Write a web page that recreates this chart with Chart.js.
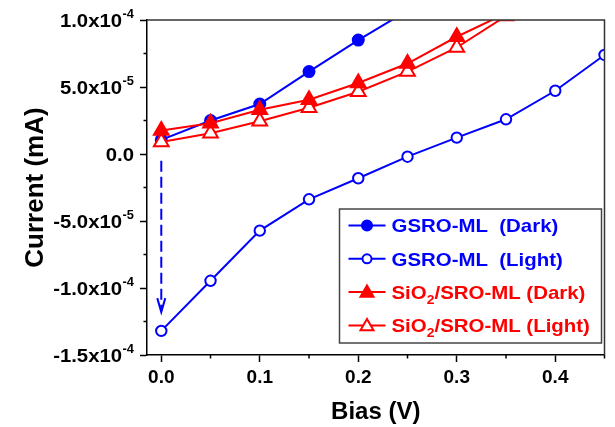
<!DOCTYPE html>
<html><head><meta charset="utf-8">
<script src="https://cdn.jsdelivr.net/npm/chart.js@4/dist/chart.umd.min.js"></script>
<style>html,body{margin:0;padding:0;background:#fff;}#wrap{width:615px;height:427px;}</style>
</head><body><div id="wrap"><canvas id="c" width="615" height="427"></canvas></div>
<script>
// ---- data ----
const biasV = [0, 0.05, 0.1, 0.15, 0.2, 0.25, 0.3, 0.35, 0.4, 0.45];
const gsroDark  = [1.05e-5, 2.5e-5, 3.73e-5, 6.15e-5, 8.5e-5, 1.07e-4];
const gsroLight = [-1.32e-4, -9.46e-5, -5.72e-5, -3.38e-5, -1.81e-5, -0.2e-5, 1.22e-5, 2.59e-5, 4.72e-5, 7.39e-5];
const sioDark   = [1.75e-5, 2.3e-5, 3.3e-5, 4.05e-5, 5.3e-5, 6.75e-5, 8.75e-5, 1.05e-4];
const sioLight  = [0.9e-5, 1.55e-5, 2.45e-5, 3.45e-5, 4.65e-5, 6.15e-5, 7.95e-5, 1.03e-4];
const seriesNames = ['GSRO-ML  (Dark)', 'GSRO-ML  (Light)', 'SiO₂/SRO-ML (Dark)', 'SiO₂/SRO-ML (Light)'];
const yTickValues   = [-1.5e-4, -1.0e-4, -5.0e-5, 0, 5.0e-5, 1.0e-4];
const yTickMantissa = ['-1.5x10', '-1.0x10', '-5.0x10', '0.0', '5.0x10', '1.0x10'];
const yTickExponent = ['-4', '-4', '-5', '', '-5', '-4'];
const yMinorTicks   = [-1.25e-4, -7.5e-5, -2.5e-5, 2.5e-5, 7.5e-5];
const xTickValues   = [0, 0.1, 0.2, 0.3, 0.4];
const xTickLabels   = ['0.0', '0.1', '0.2', '0.3', '0.4'];
const xMinorTicks   = [0.05, 0.15, 0.25, 0.35, 0.45];
const arrowX = [0, 0];
const arrowY = [-0.5e-5, -1.18e-4];

const FONT = "'Liberation Sans', Arial, Helvetica, sans-serif";
const BLUE = '#0000ff', RED = '#ff0000';
const pts = ys => ys.map((y, i) => ({x: biasV[i], y}));

const styles = [
  {color: BLUE, pointStyle: 'circle', fill: BLUE, r: 5.5, lr: 5},
  {color: BLUE, pointStyle: 'circle', fill: '#fff', r: 5.2, lr: 4.5},
  {color: RED, pointStyle: 'triangle', fill: RED, r: 8.5, lr: 7.5},
  {color: RED, pointStyle: 'triangle', fill: '#fff', r: 8.5, lr: 7.5}
];
const seriesData = [gsroDark, gsroLight, sioDark, sioLight];

const datasets = seriesData.map((d, i) => ({
  label: seriesNames[i],
  data: pts(d),
  borderColor: styles[i].color,
  backgroundColor: styles[i].fill,
  pointBackgroundColor: styles[i].fill,
  pointBorderColor: styles[i].color,
  pointStyle: styles[i].pointStyle,
  pointRadius: styles[i].r,
  pointBorderWidth: 2,
  borderWidth: 2,
  tension: 0,
  clip: 0,
  order: [2, 3, 0, 1][i]
}));

function textW(ctx, t, sx) { return ctx.measureText(t).width * sx; }
function fillStretched(ctx, t, x, y, sx) {
  ctx.save(); ctx.translate(x, y); ctx.scale(sx, 1); ctx.fillText(t, 0, 0); ctx.restore();
}

const decor = {
  id: 'decor',
  afterDatasetsDraw(chart) {
    const ctx = chart.ctx, ca = chart.chartArea;
    const xs = chart.scales.x, ys = chart.scales.y;
    ctx.save();
    // frame top/right
    ctx.strokeStyle = '#333'; ctx.lineWidth = 1.5;
    ctx.beginPath();
    ctx.moveTo(ca.left, ca.top); ctx.lineTo(ca.right, ca.top); ctx.lineTo(ca.right, ca.bottom);
    ctx.stroke();
    // minor ticks
    ctx.strokeStyle = '#000'; ctx.lineWidth = 1.5;
    ctx.beginPath();
    yMinorTicks.forEach(v => { const y = ys.getPixelForValue(v); ctx.moveTo(ca.left, y); ctx.lineTo(ca.left - 3.5, y); });
    xMinorTicks.forEach(v => { const x = xs.getPixelForValue(v); ctx.moveTo(x, ca.bottom); ctx.lineTo(x, ca.bottom + 3.5); });
    ctx.stroke();
    // y tick labels with superscripts
    const SX = 1.07;
    ctx.fillStyle = '#000'; ctx.textAlign = 'left'; ctx.textBaseline = 'alphabetic';
    const right = ca.left - 13;
    yTickValues.forEach((v, i) => {
      const y = ys.getPixelForValue(v);
      ctx.font = 'bold 12px ' + FONT;
      const sw = yTickExponent[i] ? textW(ctx, yTickExponent[i], SX) + 0.5 : 0;
      ctx.font = 'bold 19px ' + FONT;
      const bw = textW(ctx, yTickMantissa[i], SX);
      const bx = right - sw - bw;
      fillStretched(ctx, yTickMantissa[i], bx, y + 6.8, SX);
      if (yTickExponent[i]) {
        ctx.font = 'bold 12px ' + FONT;
        fillStretched(ctx, yTickExponent[i], bx + bw + 0.5, y - 2.4, SX);
      }
    });
    // dashed arrow
    const ax = xs.getPixelForValue(arrowX[0]);
    const ay0 = ys.getPixelForValue(arrowY[0]);
    const ay1 = ys.getPixelForValue(arrowY[1]);
    ctx.strokeStyle = BLUE; ctx.lineWidth = 2;
    ctx.setLineDash([11, 5]);
    ctx.beginPath(); ctx.moveTo(ax, ay0); ctx.lineTo(ax, ay1 - 2); ctx.stroke();
    ctx.setLineDash([]);
    ctx.beginPath();
    ctx.moveTo(ax - 4, ay1 - 14); ctx.lineTo(ax, ay1); ctx.lineTo(ax + 4, ay1 - 14);
    ctx.stroke();
    // legend
    const LX = 1.075;
    const bx0 = ca.right - 265, by0 = ca.bottom - 146, bw0 = 262, bh0 = 134;
    ctx.fillStyle = '#fff'; ctx.fillRect(bx0, by0, bw0, bh0);
    ctx.strokeStyle = '#444'; ctx.lineWidth = 1.5; ctx.strokeRect(bx0, by0, bw0, bh0);
    seriesNames.forEach((name, i) => {
      const ry = by0 + 16.5 + i * 33.3;
      const st = styles[i];
      ctx.strokeStyle = st.color; ctx.lineWidth = 2;
      ctx.beginPath(); ctx.moveTo(bx0 + 9, ry); ctx.lineTo(bx0 + 46, ry); ctx.stroke();
      ctx.fillStyle = st.fill; ctx.strokeStyle = st.color;
      Chart.helpers.drawPoint(ctx, {pointStyle: st.pointStyle, radius: st.lr, borderWidth: 2, rotation: 0}, bx0 + 27.5, ry + (st.pointStyle === 'triangle' ? 1 : 0));
      // label text with subscript
      ctx.fillStyle = st.color; ctx.textBaseline = 'alphabetic';
      let tx = bx0 + 52;
      const parts = name.split('₂');
      parts.forEach((p, k) => {
        ctx.font = 'bold 19px ' + FONT;
        fillStretched(ctx, p, tx, ry + 6.8, LX);
        tx += textW(ctx, p, LX);
        if (k < parts.length - 1) {
          ctx.font = 'bold 13px ' + FONT;
          fillStretched(ctx, '2', tx, ry + 12, LX);
          tx += textW(ctx, '2', LX);
        }
      });
    });
    ctx.restore();
  }
};

new Chart(document.getElementById('c'), {
  type: 'line',
  data: {datasets},
  plugins: [decor],
  options: {
    responsive: false, animation: false, devicePixelRatio: 1,
    layout: {padding: {top: 20, right: 9, left: 0, bottom: 0}},
    plugins: {legend: {display: false}, tooltip: {enabled: false}},
    scales: {
      x: {
        type: 'linear', min: -0.0145, max: 0.45,
        afterBuildTicks: s => { s.ticks = xTickValues.map(v => ({value: v})); },
        ticks: {callback: (v, i) => xTickLabels[i], font: {family: FONT, size: 19, weight: 'bold'}, color: '#000', padding: 4, maxRotation: 0, autoSkip: false},
        grid: {drawOnChartArea: false, tickLength: 7, color: '#000', tickWidth: 1.5},
        border: {color: '#000', width: 1.5},
        title: {display: true, text: 'Bias (V)', font: {family: FONT, size: 24, weight: 'bold'}, color: '#000', padding: {top: 0, bottom: 0}},
        afterFit: s => { s.height = 72; }
      },
      y: {
        type: 'linear', min: -1.5e-4, max: 1.0e-4,
        afterBuildTicks: s => { s.ticks = yTickValues.map(v => ({value: v})); },
        ticks: {callback: () => '', font: {family: FONT, size: 19, weight: 'bold'}},
        grid: {drawOnChartArea: false, tickLength: 7, color: '#000', tickWidth: 1.5},
        border: {color: '#000', width: 1.5},
        title: {display: true, text: 'Current (mA)', font: {family: FONT, size: 26, weight: 'bold'}, color: '#000', padding: {top: 20, bottom: 0}},
        afterFit: s => { s.width = 147; }
      }
    }
  }
});
</script></body></html>
